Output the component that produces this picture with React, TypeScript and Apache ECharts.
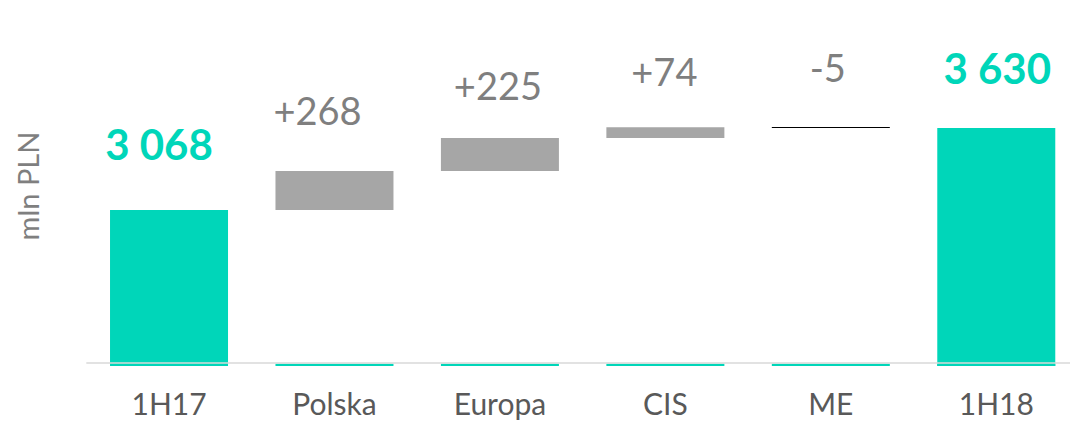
import React, { useEffect, useRef } from "react";
import * as echarts from "echarts";

const categories = ["1H17", "Polska", "Europa", "CIS", "ME", "1H18"];
const changes = [3068, 268, 225, 74, -5, 3630];
const isTotal = [true, false, false, false, false, true];
const yMin = 2000;
const yMax = 4000;
const stubHeight = 16;
const baselineValue = 2025;

// label placement (style only)
const labelDistance = [45, 42, 34, 37, 41, 39];
const labelShiftX = [-10, -17, -2, -1, -3, 1];

const TEAL = "#00D6B9";
const GREY_BAR = "#A6A6A6";
const GREY_TEXT = "#7F7F7F";

function fmtTotal(v: number) {
  return String(v).replace(/\B(?=(\d{3})+(?!\d))/g, " ");
}
function fmtDelta(v: number) {
  return (v > 0 ? "+" : "") + v;
}

export default function App() {
  const ref = useRef<HTMLDivElement>(null);
  useEffect(() => {
    if (!ref.current) return;
    const chart = echarts.init(ref.current, undefined, { renderer: "svg" });

    const stub: any[] = [];
    const base: any[] = [];
    const delta: any[] = [];
    const totals: any[] = [];
    let running = 0;
    changes.forEach((v, i) => {
      if (isTotal[i]) {
        running = v;
        stub.push(i === 0 ? "-" : yMin + stubHeight);
        base.push("-");
        delta.push("-");
        totals.push({
          value: v,
          label: {
            show: true,
            position: "top",
            distance: labelDistance[i],
            offset: [labelShiftX[i], 0],
            formatter: fmtTotal(v),
            color: TEAL,
            fontSize: 42,
            fontWeight: "bold",
            fontFamily: "Lato",
          },
        });
      } else {
        const start = running;
        const end = running + v;
        running = end;
        const lo = Math.min(start, end);
        stub.push(yMin + stubHeight);
        base.push(lo - (yMin + stubHeight));
        delta.push({
          value: Math.abs(v),
          itemStyle: { color: v >= 0 ? GREY_BAR : "#000000" },
          label: {
            show: true,
            position: "top",
            distance: labelDistance[i],
            offset: [labelShiftX[i], 0],
            formatter: fmtDelta(v),
            color: GREY_TEXT,
            fontSize: 38,
            fontFamily: "Lato",
          },
        });
        totals.push("-");
      }
    });

    chart.setOption({
      animation: false,
      grid: { left: 86.3, right: 0, top: 74, bottom: 55, containLabel: false },
      xAxis: {
        type: "category",
        data: categories,
        axisLine: { show: false },
        axisTick: { show: false },
        axisLabel: { color: "#595959", fontSize: 30, fontFamily: "Lato", margin: 22 },
      },
      yAxis: {
        type: "value",
        min: yMin,
        max: yMax,
        show: false,
      },
      graphic: [
        {
          type: "text",
          x: 27,
          y: 186,
          rotation: Math.PI / 2,
          style: {
            text: "mln PLN",
            fill: GREY_TEXT,
            fontSize: 29,
            fontFamily: "Lato",
            align: "center",
            verticalAlign: "middle",
          },
        },
      ],
      series: [
        {
          type: "bar",
          stack: "w",
          data: stub,
          barWidth: 118,
          itemStyle: { color: TEAL },
          silent: true,
        },
        {
          type: "bar",
          stack: "w",
          data: base,
          barWidth: 118,
          itemStyle: { color: "rgba(0,0,0,0)" },
          silent: true,
        },
        {
          type: "bar",
          stack: "w",
          data: delta,
          barWidth: 118,
          barMinHeight: 1,
          itemStyle: { color: GREY_BAR },
        },
        {
          type: "bar",
          data: totals,
          barWidth: 118,
          barGap: "-100%",
          itemStyle: { color: TEAL },
        },
        {
          type: "line",
          data: [],
          z: 10,
          markLine: {
            silent: true,
            symbol: "none",
            label: { show: false },
            lineStyle: { color: "#D9D9D9", width: 1.5, type: "solid" },
            data: [{ yAxis: baselineValue }],
          },
        },
      ],
    });
    return () => chart.dispose();
  }, []);
  return (
    <div
      style={{ position: "absolute", left: 0, top: 0, width: 1070, height: 421, overflow: "hidden", background: "#fff" }}
    >
      <div ref={ref} style={{ width: 1079, height: 421 }} />
    </div>
  );
}
